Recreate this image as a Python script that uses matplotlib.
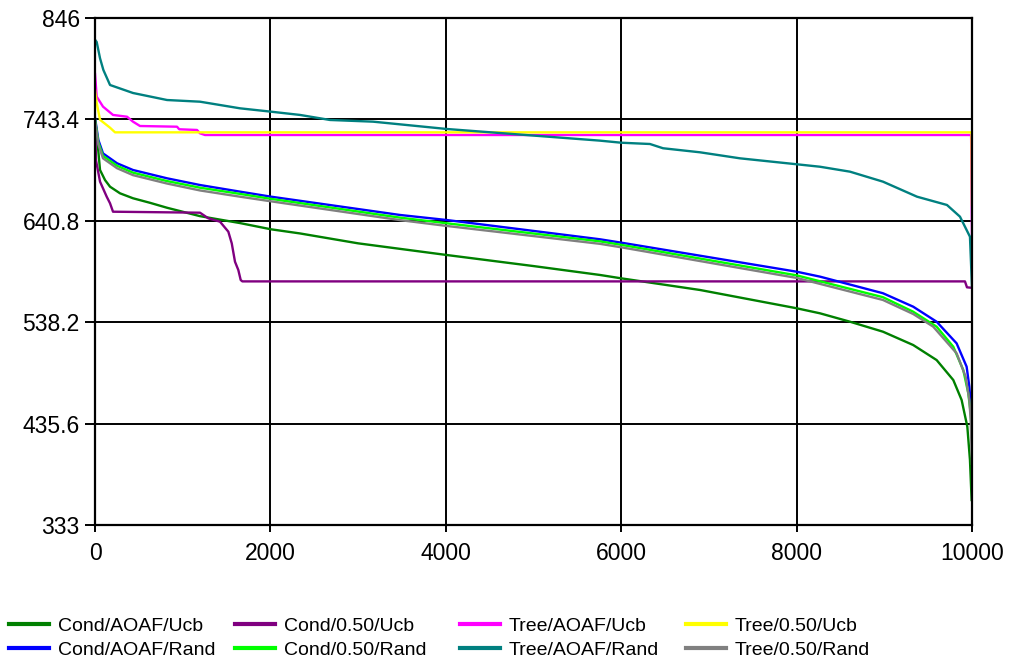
import matplotlib
matplotlib.use("Agg")
import matplotlib.pyplot as plt

plt.rcParams["font.family"] = ["Liberation Sans", "DejaVu Sans"]

# series values (x = iteration, y = value)
cau_x = [0, 19, 57, 114, 171, 285, 433, 627, 821, 1197, 1653, 2007, 2338, 3000, 4010, 5000, 5758, 6000, 6899, 8001, 8267, 8609, 8985, 9330, 9597, 9787, 9882, 9947, 9977, 9996]
cau_y = [742, 729.3, 692.2, 682, 675.3, 668.6, 663.6, 659, 654, 645.5, 638.5, 632.2, 628, 618, 606.2, 595, 586, 582.6, 570.8, 552.3, 547.2, 538.7, 528.6, 515.1, 499.9, 479.7, 459.5, 432.5, 398.8, 358.3]

c5u_x = [0, 11, 57, 133, 171, 205, 1197, 1292, 1425, 1520, 1559, 1596, 1634, 1661, 1680, 9920, 9943, 10000]
c5u_y = [740, 702, 680.4, 665.2, 658.5, 650, 649, 643.3, 639.9, 629.8, 618, 599.4, 591, 580.9, 579.5, 579.5, 573.5, 573]

tau_x = [0, 19, 91, 205, 365, 433, 513, 935, 960, 1163, 1197, 1254, 9990, 10000]
tau_y = [789.3, 766.4, 756.3, 747.9, 746.1, 741.1, 736.7, 736, 733.4, 732.7, 729.3, 727.6, 727.6, 624.7]

t5u_x = [0, 19, 57, 171, 228, 9995, 10000]
t5u_y = [773, 760, 743, 735, 730.3, 730.3, 656.8]

car_x = [0, 38, 91, 251, 433, 821, 1197, 1653, 2007, 3478, 4010, 5758, 6000, 8001, 8267, 8985, 9330, 9597, 9825, 9939, 9970, 9985, 10000]
car_y = [745, 722.6, 709, 699, 692.2, 683.8, 677, 670.3, 665.2, 646.7, 641.6, 622.1, 618.7, 589.3, 584.3, 567.5, 553.9, 538.7, 516.8, 493.2, 473, 456, 448]

c5r_x = [0, 38, 91, 251, 433, 821, 1197, 1653, 2007, 3478, 4010, 5758, 6000, 8001, 8985, 9330, 9597, 9787, 9901, 9958, 9985, 10000]
c5r_y = [743, 720, 706.5, 696.5, 689.5, 681, 674.3, 668, 663, 644, 638.3, 620, 616.5, 585.6, 563.5, 548.8, 533.7, 513.4, 489.8, 466.3, 446, 425]

tar_x = [0, 19, 57, 95, 171, 433, 821, 1197, 1653, 2007, 2338, 2680, 3170, 4010, 5758, 6000, 6328, 6477, 6899, 7355, 8001, 8267, 8609, 8985, 9373, 9715, 9863, 9977, 10000]
tar_y = [824, 821.7, 805.2, 793.4, 778.2, 770.1, 763, 761.3, 754.6, 751.2, 747.9, 742.8, 741.1, 733.7, 721.9, 719.8, 718.5, 714.2, 710.1, 704, 698, 695.5, 690.5, 680.4, 665.2, 656.8, 645, 624.7, 574]

t5r_x = [0, 38, 91, 251, 433, 821, 1197, 1653, 2007, 3478, 4010, 5758, 6000, 8001, 8985, 9330, 9558, 9825, 9928, 9970, 9985, 10000]
t5r_y = [742, 718, 704, 694, 687, 678.5, 671.5, 665.2, 660.5, 641.5, 635.6, 617.5, 614, 583, 560.7, 546.5, 533.7, 506.7, 483, 459.5, 439.3, 395]

yticks = [333, 435.6, 538.2, 640.8, 743.4, 846]
ytick_labels = ["333", "435.6", "538.2", "640.8", "743.4", "846"]
xticks = [0, 2000, 4000, 6000, 8000, 10000]

series = [
    ("Cond/AOAF/Ucb", cau_x, cau_y, "#008000"),
    ("Cond/0.50/Ucb", c5u_x, c5u_y, "#800080"),
    ("Tree/AOAF/Ucb", tau_x, tau_y, "#FF00FF"),
    ("Tree/0.50/Ucb", t5u_x, t5u_y, "#FFFF00"),
    ("Cond/AOAF/Rand", car_x, car_y, "#0000FF"),
    ("Cond/0.50/Rand", c5r_x, c5r_y, "#00FF00"),
    ("Tree/AOAF/Rand", tar_x, tar_y, "#008080"),
    ("Tree/0.50/Rand", t5r_x, t5r_y, "#808080"),
]

fig = plt.figure(figsize=(10.11, 6.61), dpi=100)
ax = fig.add_axes([0.094, 0.2057, 0.8674, 0.7671])

lines = {}
for name, xs, ys, col in series:
    ln, = ax.plot(xs, ys, color=col, lw=1.7, label=name)
    lines[name] = ln

ax.set_xlim(0, 10000)
ax.set_ylim(333, 846)
ax.set_xticks(xticks)
ax.set_yticks(yticks)
ax.set_yticklabels(ytick_labels)
ax.grid(True, color="black", lw=1.4)
ax.set_axisbelow(True)
for s in ax.spines.values():
    s.set_linewidth(1.6)
ax.tick_params(axis="y", length=7, width=1.4, pad=4, labelsize=16.5)
ax.tick_params(axis="x", length=5, width=1.4, pad=7, labelsize=16.5)

# legend: 4 columns of 2 entries
col_x = [9, 235, 460, 686]
names = [s[0] for s in series]
for i in range(4):
    hs = [lines[names[i]], lines[names[i + 4]]]
    leg = fig.legend(hs, [h.get_label() for h in hs], loc="center left",
                     bbox_to_anchor=(col_x[i] / 1011, (661 - 638) / 661),
                     frameon=False, fontsize=14, handlelength=2.06,
                     handletextpad=0.45, labelspacing=0.35, borderpad=0,
                     borderaxespad=0)
    for lh in leg.get_lines():
        lh.set_linewidth(3)

fig.savefig("out.png", dpi=100)
